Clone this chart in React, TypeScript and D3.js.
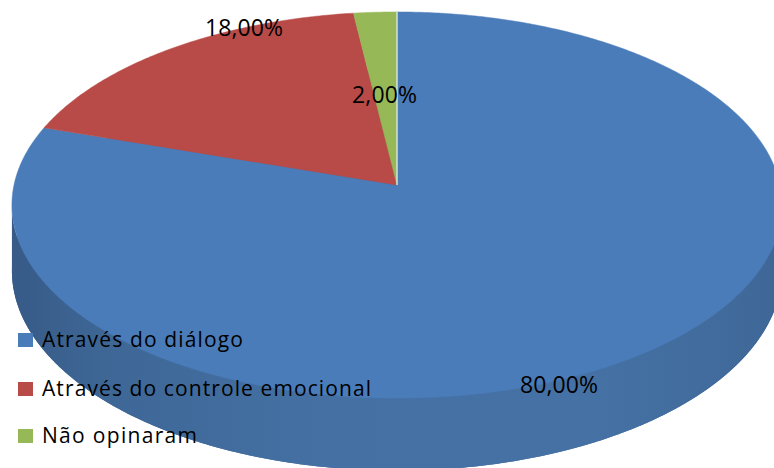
import React from "react";
import * as d3 from "d3";

// Chart data
const categories = ["Através do diálogo", "Através do controle emocional", "Não opinaram"];
const values = [80, 18, 2];
const colors = ["#4a7cb9", "#b84b48", "#97b857"];

// Layout
const W = 774;
const H = 468;
const cx = 397;
const cy = 185;
const A = 383; // horizontal radius
const B = 191; // vertical radius
const K = 0.1037; // perspective factor
const DEPTH = 65;

// Label anchors (left x, baseline y, width) for each slice label
const labelPos = [
  { x: 520, y: 393, w: 78 },
  { x: 205, y: 36, w: 78 },
  { x: 352, y: 103, w: 65 },
];
const legendPos = { x: 18, textX: 42, baselines: [347, 396, 443], widths: [201, 329, 155] };

const fmt = (v: number) => d3.format(".2f")(v).replace(".", ",") + "%";

function proj(a: number, r: number, dz: number): [number, number] {
  const u = Math.sin(a) * r;
  const v = -Math.cos(a) * r;
  const s = 1 / (1 - K * v);
  return [cx + A * u * s, cy + B * v * s + DEPTH * s * dz];
}

function arcPts(a0: number, a1: number, dz: number) {
  const n = Math.max(4, Math.ceil(Math.abs(a1 - a0) / 0.01));
  return d3.range(n + 1).map((i) => proj(a0 + ((a1 - a0) * i) / n, 1, dz));
}

export default function App() {
  const pie = d3.pie<number>().sort(null).value((d) => d);
  const arcs = pie(values);
  const line = d3.line();

  // silhouette extremes of the rim
  const scan = d3.range(0, 2 * Math.PI, 0.001);
  const aR = scan.reduce((b, a) => (proj(a, 1, 0)[0] > proj(b, 1, 0)[0] ? a : b), scan[0]);
  const aL = scan.reduce((b, a) => (proj(a, 1, 0)[0] < proj(b, 1, 0)[0] ? a : b), scan[0]);

  const topRim = arcPts(aR, aL, 0);
  const botRim = arcPts(aL, aR, 1);
  const sidePath = line([...topRim, ...botRim] as [number, number][]) + "Z";
  const bottomPath = line(arcPts(0, 2 * Math.PI, 1) as [number, number][]) + "Z";

  const slicePaths = arcs.map((d) => {
    const pts = [proj(0, 0, 0), ...arcPts(d.startAngle, d.endAngle, 0)];
    return line(pts as [number, number][]) + "Z";
  });

  const sepTop = proj(0, 1, 0);
  const ctr = proj(0, 0, 0);

  return (
    <svg
      width={W}
      height={H}
      style={{ position: "absolute", left: 0, top: 0, background: "#fff" }}
      fontFamily="'Open Sans', Lato, sans-serif"
    >
      <defs>
        <linearGradient id="sideGrad" x1="0" x2="1" y1="0" y2="0">
          <stop offset="0" stopColor="#375a87" />
          <stop offset="0.12" stopColor="#3e6796" />
          <stop offset="0.4" stopColor="#4470a3" />
          <stop offset="0.75" stopColor="#4571a4" />
          <stop offset="0.92" stopColor="#416b9c" />
          <stop offset="1" stopColor="#3e6796" />
        </linearGradient>
      </defs>
      <path d={bottomPath} fill="url(#sideGrad)" />
      <path d={sidePath} fill="url(#sideGrad)" />
      {slicePaths.map((p, i) => (
        <path key={i} d={p} fill={colors[i]} stroke={colors[i]} strokeWidth={0.5} />
      ))}
      <line x1={sepTop[0]} y1={sepTop[1]} x2={ctr[0]} y2={ctr[1]} stroke="#e8eef5" strokeWidth={1.2} />
      {values.map((v, i) => (
        <text
          key={i}
          x={labelPos[i].x}
          y={labelPos[i].y}
          fontSize={23}
          fill="#000"
          textLength={labelPos[i].w}
          lengthAdjust="spacing"
        >
          {fmt(v)}
        </text>
      ))}
      {categories.map((c, i) => (
        <g key={c}>
          <rect
            x={legendPos.x}
            y={legendPos.baselines[i] - 14}
            width={15}
            height={14}
            fill={colors[i]}
          />
          <text
            x={legendPos.textX}
            y={legendPos.baselines[i]}
            fontSize={21}
            fill="#000"
            textLength={legendPos.widths[i]}
            lengthAdjust="spacing"
          >
            {c}
          </text>
        </g>
      ))}
    </svg>
  );
}
